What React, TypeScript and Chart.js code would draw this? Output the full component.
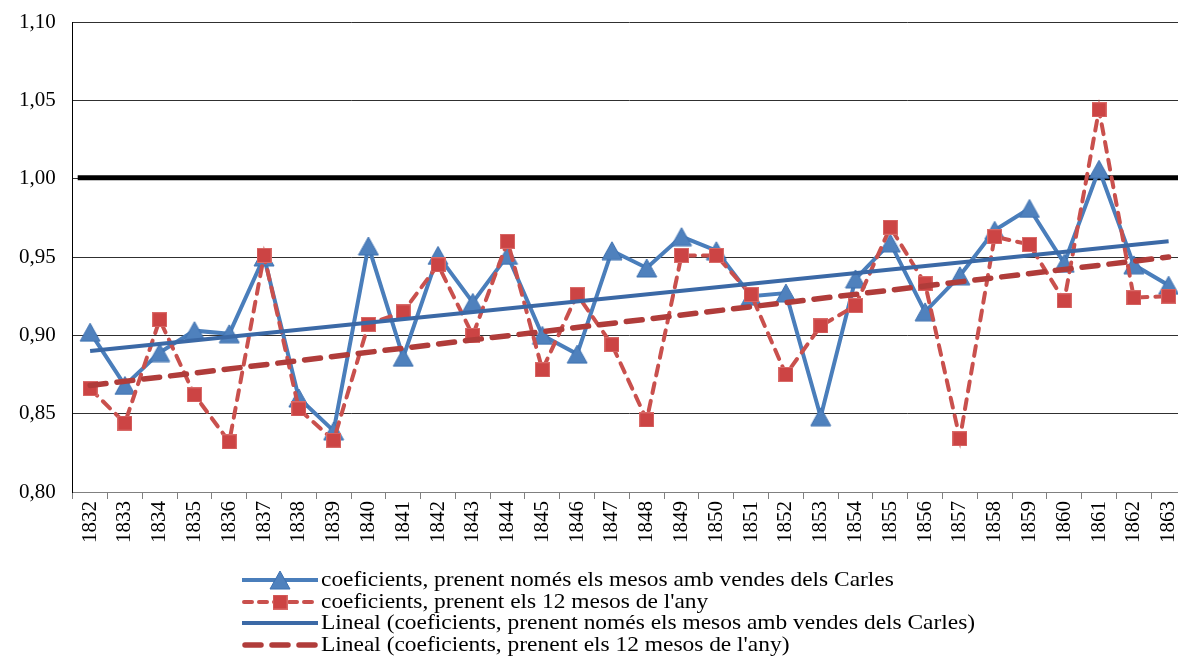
import React, { useEffect, useRef } from 'react';
import { Chart, registerables } from 'chart.js';

Chart.register(...registerables);

const years = [
  '1832', '1833', '1834', '1835', '1836', '1837', '1838', '1839', '1840', '1841',
  '1842', '1843', '1844', '1845', '1846', '1847', '1848', '1849', '1850', '1851',
  '1852', '1853', '1854', '1855', '1856', '1857', '1858', '1859', '1860', '1861',
  '1862', '1863',
];

const coefCarles = [
  0.902, 0.868, 0.889, 0.903, 0.901, 0.950, 0.860, 0.839, 0.957, 0.886,
  0.951, 0.921, 0.951, 0.900, 0.888, 0.954, 0.943, 0.963, 0.954, 0.925,
  0.927, 0.848, 0.936, 0.959, 0.915, 0.938, 0.967, 0.981, 0.946, 1.006,
  0.945, 0.932,
];

const coef12 = [
  0.866, 0.844, 0.910, 0.862, 0.832, 0.951, 0.853, 0.833, 0.907, 0.915,
  0.945, 0.900, 0.960, 0.878, 0.926, 0.894, 0.846, 0.951, 0.951, 0.926,
  0.875, 0.906, 0.919, 0.969, 0.933, 0.834, 0.963, 0.958, 0.922, 1.044,
  0.924, 0.925,
];

// linear trend lines: values at first and last year
const trendCarlesEnds = [0.890, 0.960];
const trend12Ends = [0.868, 0.950];

const referenceLevel = 1.0;
const yMin = 0.8;
const yMax = 1.1;
const yStep = 0.05;

const legendLabels = [
  'coeficients, prenent només els mesos amb vendes dels Carles',
  "coeficients, prenent els 12 mesos de l'any",
  'Lineal (coeficients, prenent només els mesos amb vendes dels Carles)',
  "Lineal (coeficients, prenent els 12 mesos de l'any)",
];

const FONT = "'Liberation Serif', 'Times New Roman', serif";
const BLUE = '#4a7ebb';
const BLUE_FILL = '#4F81BD';
const BLUE_TREND = '#3b69a6';
const RED = '#c9504d';
const RED_FILL = '#cc4444';
const RED_TREND = '#b03c3a';

function endsToSeries(ends: number[]) {
  return years.map((_, i) => (i === 0 ? ends[0] : i === years.length - 1 ? ends[1] : null));
}

function makeTriangle() {
  const c = document.createElement('canvas');
  c.width = 22;
  c.height = 20;
  const ctx = c.getContext('2d')!;
  ctx.beginPath();
  ctx.moveTo(11, 1);
  ctx.lineTo(21, 19);
  ctx.lineTo(1, 19);
  ctx.closePath();
  ctx.fillStyle = BLUE_FILL;
  ctx.fill();
  ctx.strokeStyle = '#3d70b0';
  ctx.lineWidth = 1;
  ctx.stroke();
  return c;
}

function makeSquare() {
  const c = document.createElement('canvas');
  c.width = 15;
  c.height = 15;
  const ctx = c.getContext('2d')!;
  ctx.fillStyle = RED_FILL;
  ctx.fillRect(0.5, 0.5, 14, 14);
  ctx.strokeStyle = '#d96a68';
  ctx.lineWidth = 1;
  ctx.strokeRect(0.5, 0.5, 14, 14);
  return c;
}

export default function App() {
  const ref = useRef<HTMLCanvasElement>(null);

  useEffect(() => {
    const canvas = ref.current!;
    const tri = makeTriangle();
    const sq = makeSquare();

    const overlay = {
      id: 'overlay',
      beforeDatasetsDraw(chart: any) {
        const { ctx, chartArea, scales } = chart;
        const y = scales.y.getPixelForValue(referenceLevel);
        ctx.save();
        ctx.strokeStyle = '#000';
        ctx.lineWidth = 5;
        ctx.beginPath();
        ctx.moveTo(chartArea.left + 5, y - 1);
        ctx.lineTo(chartArea.right, y - 1);
        ctx.stroke();
        ctx.restore();
      },
      afterDraw(chart: any) {
        const { ctx } = chart;
        const x0 = 242;
        const len = 76;
        const tx = 321;
        const rows = [580, 602, 623, 645];
        ctx.save();
        // 1: blue line + triangle
        ctx.lineCap = 'butt';
        ctx.strokeStyle = BLUE;
        ctx.lineWidth = 4;
        ctx.beginPath();
        ctx.moveTo(x0, rows[0]);
        ctx.lineTo(x0 + len, rows[0]);
        ctx.stroke();
        ctx.drawImage(tri, x0 + len / 2 - tri.width / 2, rows[0] - tri.height / 2);
        // 2: red dashed + square
        ctx.strokeStyle = RED;
        ctx.lineWidth = 4;
        ctx.lineCap = 'round';
        ctx.setLineDash([8, 7]);
        ctx.beginPath();
        ctx.moveTo(x0 + 2, rows[1]);
        ctx.lineTo(x0 + len, rows[1]);
        ctx.stroke();
        ctx.setLineDash([]);
        ctx.drawImage(sq, x0 + len / 2 - sq.width / 2, rows[1] - sq.height / 2);
        // 3: blue trend
        ctx.lineCap = 'butt';
        ctx.strokeStyle = BLUE_TREND;
        ctx.lineWidth = 4;
        ctx.beginPath();
        ctx.moveTo(x0, rows[2]);
        ctx.lineTo(x0 + len, rows[2]);
        ctx.stroke();
        // 4: red trend dashed
        ctx.strokeStyle = RED_TREND;
        ctx.lineWidth = 5.5;
        ctx.lineCap = 'round';
        ctx.setLineDash([16, 11]);
        ctx.beginPath();
        ctx.moveTo(x0 + 3, rows[3]);
        ctx.lineTo(x0 + len, rows[3]);
        ctx.stroke();
        ctx.setLineDash([]);
        // texts (slightly wide serif, as in the original)
        ctx.fillStyle = '#000';
        ctx.font = `21px ${FONT}`;
        ctx.textBaseline = 'middle';
        ctx.textAlign = 'left';
        legendLabels.forEach((t, i) => {
          ctx.save();
          ctx.translate(tx, rows[i]);
          ctx.scale(1.115, 1);
          ctx.fillText(t, 0, 0);
          ctx.restore();
        });
        ctx.restore();
      },
    };

    const chart = new Chart(canvas, {
      type: 'line',
      data: {
        labels: years,
        datasets: [
          {
            label: legendLabels[0],
            data: coefCarles,
            borderColor: BLUE,
            borderWidth: 4,
            pointStyle: tri as any,
            pointRadius: 10,
            tension: 0,
            order: 4,
          },
          {
            label: legendLabels[1],
            data: coef12,
            borderColor: RED,
            borderWidth: 4,
            borderDash: [10, 8],
            borderCapStyle: 'round',
            pointStyle: sq as any,
            pointRadius: 8,
            tension: 0,
            order: 3,
          },
          {
            label: legendLabels[2],
            data: endsToSeries(trendCarlesEnds),
            borderColor: BLUE_TREND,
            borderWidth: 4,
            pointRadius: 0,
            spanGaps: true,
            order: 2,
          },
          {
            label: legendLabels[3],
            data: endsToSeries(trend12Ends),
            borderColor: RED_TREND,
            borderWidth: 5.5,
            borderDash: [16, 11],
            borderCapStyle: 'round',
            pointRadius: 0,
            spanGaps: true,
            order: 1,
          },
        ],
      },
      options: {
        responsive: false,
        animation: false,
        events: [],
        layout: { padding: { left: 0, top: 22, right: 8, bottom: 109 } },
        plugins: { legend: { display: false }, tooltip: { enabled: false } },
        scales: {
          x: {
            type: 'category',
            offset: true,
            afterFit: (s: any) => {
              s.height = 60;
              s.paddingLeft = 0;
              s.paddingRight = 0;
            },
            grid: {
              offset: true,
              drawOnChartArea: false,
              drawTicks: true,
              tickLength: 7,
              color: '#808080',
            },
            border: { color: '#808080', width: 1 },
            ticks: {
              autoSkip: false,
              minRotation: 90,
              maxRotation: 90,
              padding: 2,
              color: '#000',
              font: { family: FONT, size: 21 },
            },
          },
          y: {
            min: yMin,
            max: yMax,
            afterFit: (s: any) => {
              s.width = 72.7;
              s.paddingTop = 0;
              s.paddingBottom = 0;
            },
            grid: { color: '#303030', lineWidth: 1, drawTicks: false },
            border: { color: '#000', width: 1 },
            ticks: {
              stepSize: yStep,
              padding: 17,
              color: '#000',
              font: { family: FONT, size: 21 },
              callback: (v: any) => Number(v).toFixed(2).replace('.', ','),
            },
          },
        },
      },
      plugins: [overlay],
    });

    return () => chart.destroy();
  }, []);

  return (
    <div
      style={{
        position: 'fixed',
        left: 0,
        top: 0,
        width: 1178,
        height: 661,
        overflow: 'hidden',
        background: '#fff',
      }}
    >
      <canvas ref={ref} width={1200} height={661} style={{ display: 'block', width: 1200, height: 661 }} />
    </div>
  );
}
